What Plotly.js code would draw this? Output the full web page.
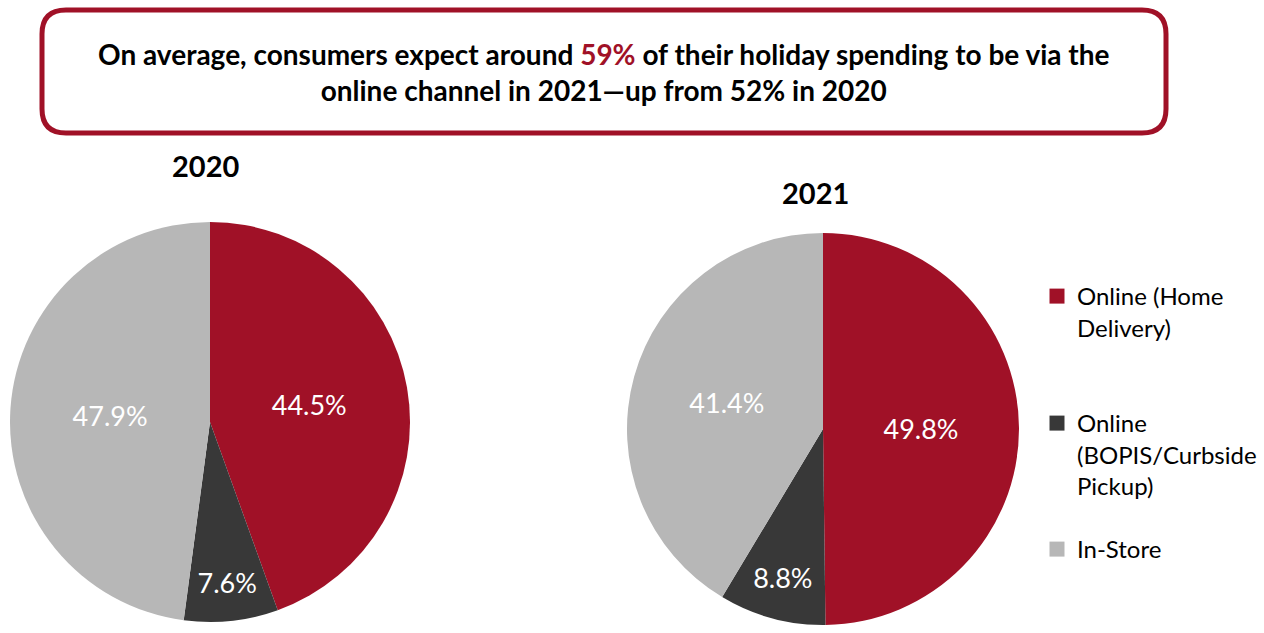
<!DOCTYPE html>
<html>
<head>
<meta charset="utf-8">
<script src="https://cdn.plot.ly/plotly-3.0.1.min.js"></script>
<style>html,body{margin:0;padding:0;background:#fff;}#chart{width:1264px;height:633px;}</style>
</head>
<body>
<div id="chart"></div>
<script>
const categories = ["Online (Home Delivery)", "Online (BOPIS/Curbside Pickup)", "In-Store"];
const legendLabels = ["Online (Home<br>Delivery)", "Online<br>(BOPIS/Curbside<br>Pickup)", "In-Store"];
const values2020 = [44.5, 7.6, 47.9];
const values2021 = [49.8, 8.8, 41.4];
const years = ["2020", "2021"];
const colors = ["#A01127", "#383838", "#B7B7B7"];

const W = 1264, H = 633;
const px = x => x / W;
const py = y => 1 - y / H;
const FONT = "Lato, 'Open Sans', sans-serif";

function pieTrace(vals, x0, x1, yTop, yBot) {
  return {
    type: "pie",
    labels: categories,
    values: vals,
    sort: false,
    direction: "clockwise",
    rotation: 0,
    marker: {colors: colors, line: {width: 0}},
    texttemplate: "%{value:.1f}%",
    textposition: "inside",
    insidetextorientation: "horizontal",
    textfont: {color: "#ffffff", size: 27, family: FONT},
    hoverinfo: "label+value",
    showlegend: false,
    domain: {x: [px(x0), px(x1)], y: [py(yBot), py(yTop)]}
  };
}

const data = [
  pieTrace(values2020, 10, 410, 222, 622),
  pieTrace(values2021, 627, 1019, 233, 625)
];
const legendNames = ["legend", "legend2", "legend3"];
categories.forEach((c, i) => {
  data.push({
    type: "scatter", mode: "markers", x: [null], y: [null],
    name: legendLabels[i],
    marker: {symbol: "square", size: 15, color: colors[i]},
    legend: legendNames[i], showlegend: true, hoverinfo: "skip"
  });
});

function roundRect(x0, y0, x1, y1, r) {
  const rx = r / W, ry = r / H;
  const X0 = px(x0), X1 = px(x1), Y0 = py(y0), Y1 = py(y1);
  return `M ${X0 + rx} ${Y0} L ${X1 - rx} ${Y0} Q ${X1} ${Y0} ${X1} ${Y0 - ry} ` +
         `L ${X1} ${Y1 + ry} Q ${X1} ${Y1} ${X1 - rx} ${Y1} L ${X0 + rx} ${Y1} ` +
         `Q ${X0} ${Y1} ${X0} ${Y1 + ry} L ${X0} ${Y0 - ry} Q ${X0} ${Y0} ${X0 + rx} ${Y0} Z`;
}

const legendBase = {
  xanchor: "left", yanchor: "top", valign: "top",
  font: {size: 24, color: "#000", family: FONT},
  bgcolor: "rgba(0,0,0,0)", borderwidth: 0
};

const layout = {
  width: W, height: H,
  margin: {l: 0, r: 0, t: 0, b: 0},
  paper_bgcolor: "#fff", plot_bgcolor: "#fff",
  font: {family: FONT},
  xaxis: {visible: false, range: [0, 1]},
  yaxis: {visible: false, range: [0, 1]},
  legend: Object.assign({x: px(1037), y: py(274)}, legendBase),
  legend2: Object.assign({x: px(1037), y: py(401)}, legendBase),
  legend3: Object.assign({x: px(1037), y: py(527)}, legendBase),
  shapes: [{
    type: "path", xref: "paper", yref: "paper",
    path: roundRect(42, 10, 1166, 133, 24),
    line: {color: "#A01127", width: 5}, fillcolor: "rgba(0,0,0,0)"
  }],
  annotations: [
    {
      xref: "paper", yref: "paper", x: px(603), y: py(72), xanchor: "center", yanchor: "middle",
      showarrow: false, align: "center",
      text: "<b>On average, consumers expect around <span style='color:#A01127'>59%</span> of their holiday spending to be via the<br>online channel in 2021\u2014up from 52% in 2020</b>",
      font: {size: 28, color: "#000", family: FONT}
    },
    {
      xref: "paper", yref: "paper", x: px(205), y: py(166), xanchor: "center", yanchor: "middle",
      showarrow: false, text: "<b>" + years[0] + "</b>", font: {size: 29, color: "#000", family: FONT}
    },
    {
      xref: "paper", yref: "paper", x: px(815), y: py(192), xanchor: "center", yanchor: "middle",
      showarrow: false, text: "<b>" + years[1] + "</b>", font: {size: 29, color: "#000", family: FONT}
    }
  ]
};

Plotly.newPlot("chart", data, layout, {displayModeBar: false, staticPlot: true});
</script>
</body>
</html>
